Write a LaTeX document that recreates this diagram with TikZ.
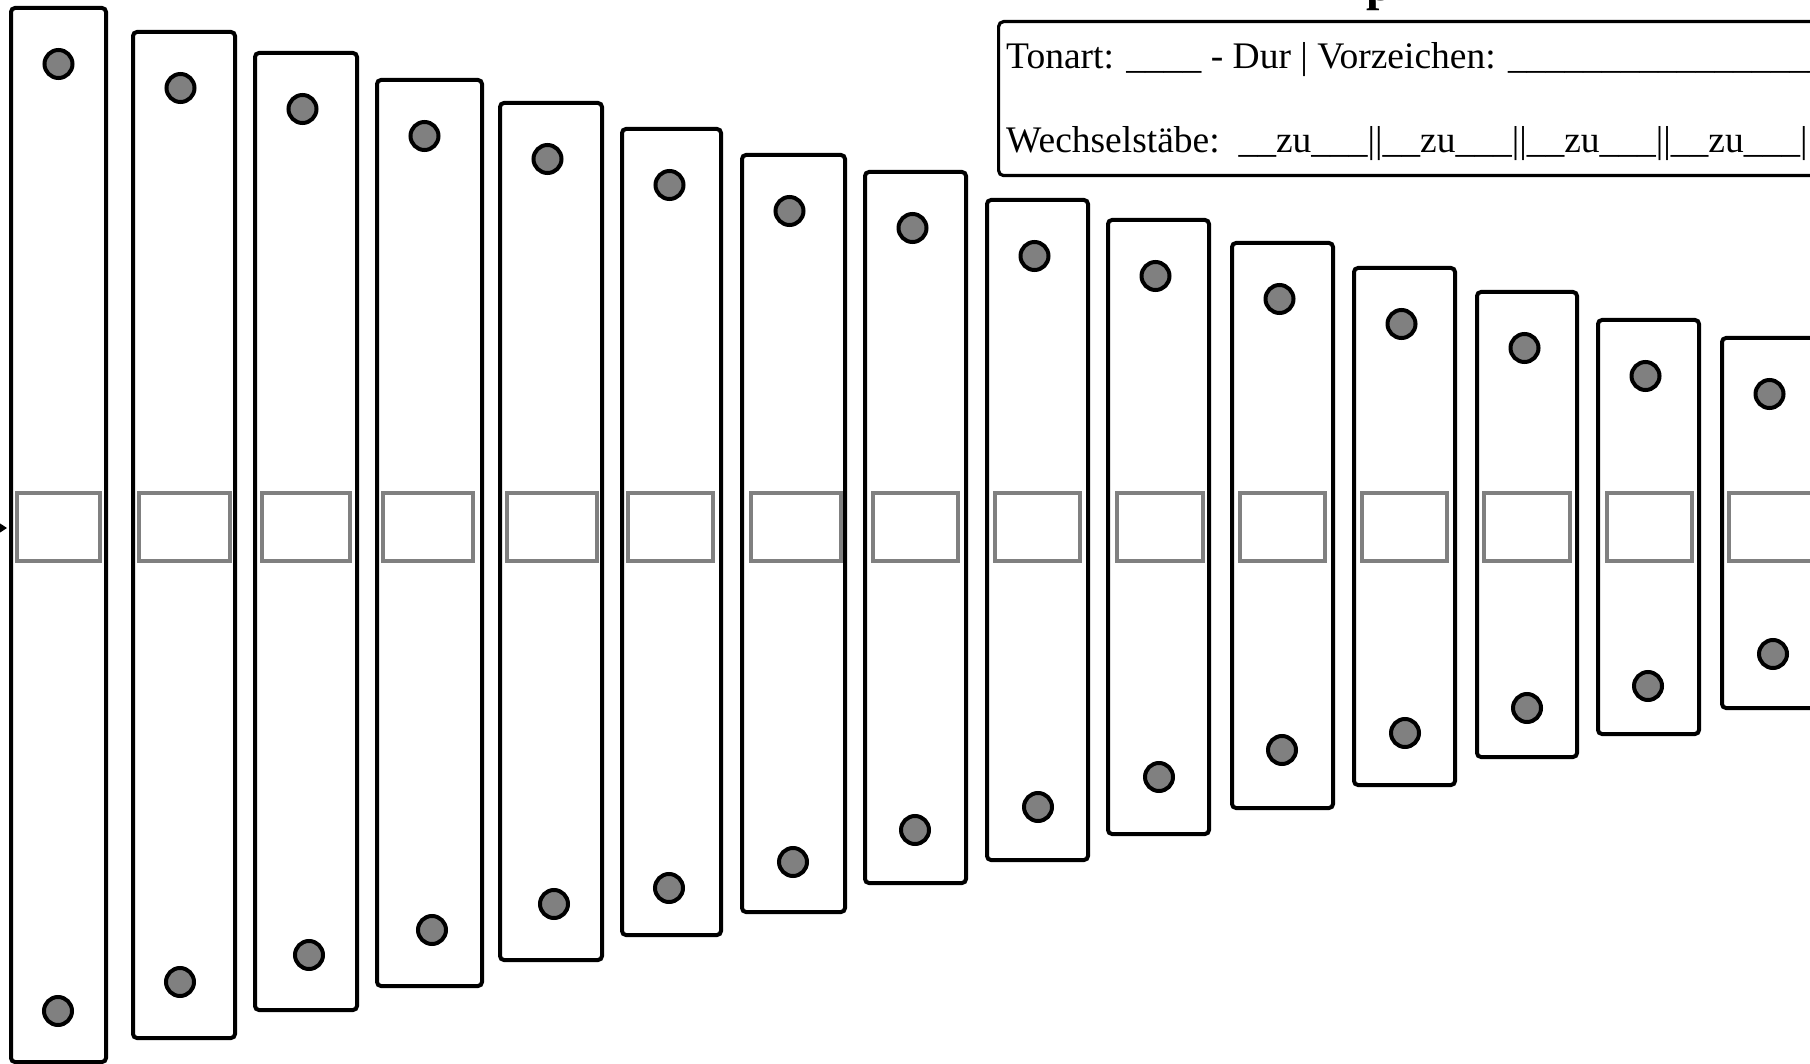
\documentclass[tikz,border=0pt]{standalone}
\usepackage{fontspec}
\setmainfont{Liberation Serif}
\usetikzlibrary{positioning,arrows.meta}

\begin{document}
\begin{tikzpicture}[x=1pt, y=-1pt,
    bar/.style={draw, line width=4pt, rounded corners=4pt, inner sep=0pt, outer sep=0pt},
    knob/.style={circle, draw, fill=gray, line width=4pt, minimum size=28pt, inner sep=0pt},
    pad/.style={draw=gray, line width=3.5pt, inner sep=0pt, minimum height=68pt},
    info/.style={draw, line width=3.2pt, rounded corners=5pt, inner sep=0pt, anchor=north west},
    txt/.style={font=\fontsize{37.5}{44}\selectfont, inner sep=0pt, anchor=base west}
  ]
  \useasboundingbox (0,0) rectangle (1810,1064);
  % Klangstaebe: links/rechts/oben/unten, unterer Knopf, Anschlagfeld
  \foreach \i/\l/\r/\t/\b/\bx/\by/\gl/\gr in {
      1/11/106/8/1062/58/1011/17/100,
      2/133/235/32/1038/180/982/139/230,
      3/255/357/53/1010/309/955/262/350,
      4/377/482/80/986/432/930/383/473,
      5/500/602/103/960/554/904/507/597,
      6/622/721/129/935/669/888/628/713,
      7/742/845/155/912/793/862/751/841,
      8/865/966/172/883/915/830/873/958,
      9/987/1088/200/860/1038/807/995/1080,
      10/1108/1209/220/834/1159/777/1117/1203,
      11/1232/1333/243/808/1282/750/1240/1325,
      12/1354/1455/268/785/1405/733/1362/1447,
      13/1477/1577/292/757/1527/708/1484/1570,
      14/1598/1699/320/734/1648/686/1607/1692,
      15/1722/1823/338/708/1773/654/1729/1815}
  {
    \node[bar, minimum width={\r-\l}, minimum height={\b-\t}] (b\i) at ({(\l+\r)/2},{(\t+\b)/2}) {};
    \node[knob] (o\i) at ({\l+47.5},{\t+56}) {};
    \node[knob] (u\i) at (\bx,\by) {};
    \node[pad, minimum width={\gr-\gl}] (f\i) at ({(\gl+\gr)/2},527) {};
  }

  \coordinate (ein) at (-40,528);
  \draw[-{Triangle[width=14pt,length=11pt]}, line width=1.5pt, shorten >=4pt] (ein) -- (ein -| b1.west);

  \node[font=\bfseries\fontsize{48}{56}\selectfont, inner sep=0pt, anchor=base] (titel) at (1380,1) {p};

  \node[info, minimum width=900pt, minimum height=154pt] (info) at (997,20) {};
  \node[txt] (tonart) at (1006,69) {Tonart: \_\_\_\_ - Dur | Vorzeichen: \_\_\_\_\_\_\_\_\_\_\_\_\_\_\_\_\_\_\_\_\_\_\_\_\_};
  \node[txt] (wechsel) at (1006,153) {Wechselstäbe:\ \ \_\_zu\_\_\_||\_\_zu\_\_\_||\_\_zu\_\_\_||\_\_zu\_\_\_||};
\end{tikzpicture}
\end{document}
